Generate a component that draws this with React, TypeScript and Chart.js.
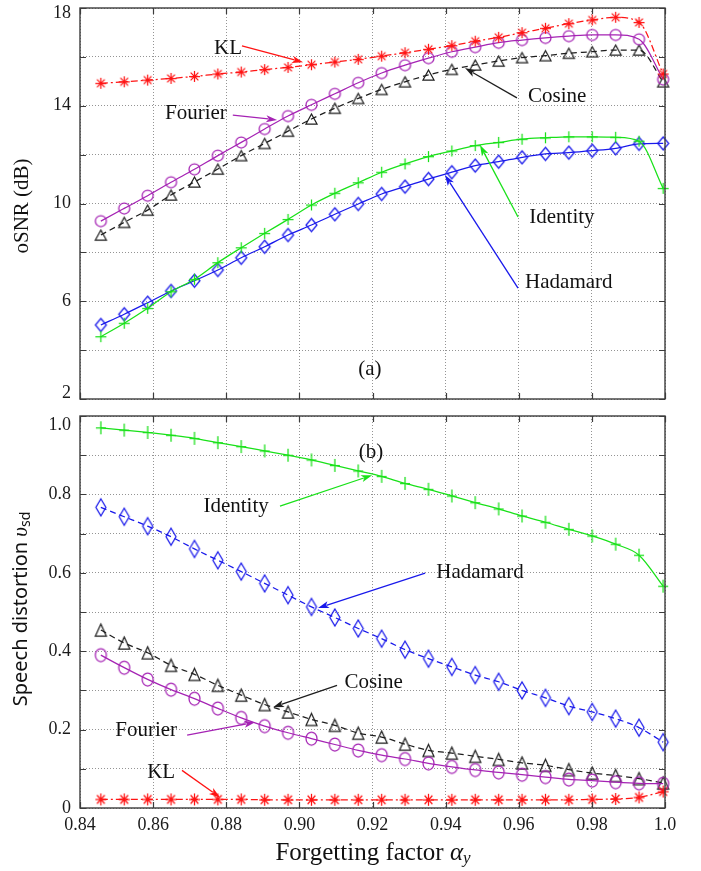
import React, { useEffect, useRef } from 'react';
import { Chart, registerables } from 'chart.js';

Chart.register(...registerables);

// ---------- data ----------
const ALPHA = [0.8457, 0.8521, 0.8585, 0.8649, 0.8713, 0.8777, 0.8841, 0.8905, 0.8969, 0.9033, 0.9097, 0.9161, 0.9225,
  0.9289, 0.9353, 0.9417, 0.9481, 0.9545, 0.9609, 0.9673, 0.9737, 0.9801, 0.9865, 0.9929, 0.9995];

const OSNR_KL = [14.92, 14.98, 15.05, 15.12, 15.20, 15.30, 15.38, 15.48, 15.57, 15.68, 15.79, 15.90, 16.03,
  16.17, 16.31, 16.46, 16.64, 16.80, 16.99, 17.17, 17.36, 17.51, 17.62, 17.41, 15.30];
const OSNR_FOURIER = [9.28, 9.80, 10.32, 10.87, 11.40, 11.96, 12.50, 13.05, 13.58, 14.04, 14.49, 14.94, 15.34,
  15.66, 15.95, 16.21, 16.40, 16.58, 16.69, 16.78, 16.85, 16.90, 16.90, 16.72, 15.08];
const OSNR_COSINE = [8.71, 9.23, 9.73, 10.35, 10.88, 11.41, 11.96, 12.46, 12.96, 13.46, 13.90, 14.30, 14.67,
  14.98, 15.26, 15.49, 15.67, 15.83, 15.97, 16.05, 16.15, 16.21, 16.28, 16.28, 14.98];
const OSNR_IDENTITY = [4.55, 5.10, 5.71, 6.39, 6.90, 7.58, 8.19, 8.78, 9.35, 9.94, 10.42, 10.85, 11.28,
  11.62, 11.92, 12.15, 12.37, 12.50, 12.63, 12.69, 12.73, 12.73, 12.71, 12.55, 10.62];
const OSNR_HADAMARD = [5.03, 5.47, 5.94, 6.42, 6.84, 7.28, 7.78, 8.23, 8.71, 9.12, 9.56, 9.98, 10.39,
  10.69, 11.00, 11.28, 11.55, 11.71, 11.89, 12.03, 12.08, 12.16, 12.26, 12.44, 12.46];

const DIST_IDENTITY = [0.970, 0.964, 0.958, 0.951, 0.943, 0.932, 0.922, 0.911, 0.900, 0.888, 0.874, 0.860, 0.846,
  0.828, 0.813, 0.796, 0.779, 0.763, 0.745, 0.729, 0.711, 0.694, 0.673, 0.645, 0.566];
const DIST_HADAMARD = [0.767, 0.743, 0.719, 0.692, 0.661, 0.632, 0.603, 0.573, 0.543, 0.513, 0.486, 0.458, 0.432,
  0.404, 0.381, 0.360, 0.339, 0.322, 0.300, 0.281, 0.260, 0.245, 0.228, 0.205, 0.168];
const DIST_COSINE = [0.454, 0.421, 0.396, 0.364, 0.341, 0.313, 0.288, 0.264, 0.245, 0.226, 0.211, 0.191, 0.181,
  0.163, 0.147, 0.140, 0.132, 0.124, 0.115, 0.109, 0.098, 0.089, 0.083, 0.075, 0.064];
const DIST_FOURIER = [0.390, 0.358, 0.328, 0.302, 0.279, 0.254, 0.230, 0.209, 0.192, 0.177, 0.162, 0.147, 0.135,
  0.125, 0.114, 0.105, 0.097, 0.091, 0.085, 0.079, 0.073, 0.070, 0.066, 0.063, 0.062];
const DIST_KL = [0.022, 0.022, 0.022, 0.022, 0.022, 0.022, 0.022, 0.021, 0.021, 0.021, 0.021, 0.021, 0.021,
  0.021, 0.021, 0.021, 0.021, 0.021, 0.021, 0.021, 0.021, 0.022, 0.023, 0.027, 0.042];

const X_TICKS = [0.84, 0.86, 0.88, 0.90, 0.92, 0.94, 0.96, 0.98, 1.0];
const X_TICK_LABELS = ['0.84', '0.86', '0.88', '0.90', '0.92', '0.94', '0.96', '0.98', '1.0'];
const OSNR_TICKS = [2, 4, 6, 8, 10, 12, 14, 16, 18];
const OSNR_TICK_LABELS = ['2', '', '6', '', '10', '', '14', '', '18'];
const DIST_TICKS = [0, 0.1, 0.2, 0.3, 0.4, 0.5, 0.6, 0.7, 0.8, 0.9, 1.0];
const DIST_TICK_LABELS = ['0', '', '0.2', '', '0.4', '', '0.6', '', '0.8', '', '1.0'];

// ---------- styles ----------
const RED = 'rgb(255,20,20)';
const PURPLE = 'rgb(165,35,180)';
const BLACK = 'rgb(30,30,30)';
const GREEN = 'rgb(25,225,25)';
const BLUE = 'rgb(25,25,235)';
const SERIF = '"Liberation Serif", "Times New Roman", serif';
const SANS = '"Noto Sans", "Open Sans", sans-serif';

type Note = { text: string; x: number; y: number; color?: string; from?: [number, number]; to?: [number, number] };

const NOTES_A: Note[] = [
  { text: 'KL', x: 0.8805, y: 16.36, color: RED, from: [0.8843, 16.45], to: [0.9010, 15.78] },
  { text: 'Fourier', x: 0.8717, y: 13.70, color: PURPLE, from: [0.8818, 13.62], to: [0.8939, 13.42] },
  { text: 'Cosine', x: 0.9705, y: 14.36, color: BLACK, from: [0.9595, 14.32], to: [0.9453, 15.54] },
  { text: 'Identity', x: 0.9718, y: 9.41, color: GREEN, from: [0.9598, 9.45], to: [0.9494, 12.39] },
  { text: 'Hadamard', x: 0.9737, y: 6.75, color: BLUE, from: [0.9598, 6.54], to: [0.9398, 11.17] },
  { text: '(a)', x: 0.9193, y: 3.19 },
];

const NOTES_B: Note[] = [
  { text: '(b)', x: 0.9196, y: 0.908 },
  { text: 'Identity', x: 0.8827, y: 0.768, color: GREEN, from: [0.8947, 0.770], to: [0.9199, 0.849] },
  { text: 'Hadamard', x: 0.9494, y: 0.600, color: BLUE, from: [0.9344, 0.599], to: [0.9051, 0.510] },
  { text: 'Cosine', x: 0.9203, y: 0.321, color: BLACK, from: [0.9103, 0.313], to: [0.8928, 0.257] },
  { text: 'Fourier', x: 0.8581, y: 0.199, color: PURPLE, from: [0.8693, 0.186], to: [0.8879, 0.219] },
  { text: 'KL', x: 0.8622, y: 0.091, color: RED, from: [0.8679, 0.096], to: [0.8783, 0.027] },
];

// ---------- helpers ----------
function marker(shape: string, color: string, w: number, h: number): HTMLCanvasElement {
  const pad = 2;
  const c = document.createElement('canvas');
  c.width = w + pad * 2;
  c.height = h + pad * 2;
  const g = c.getContext('2d')!;
  g.strokeStyle = color;
  g.lineWidth = 1.25;
  const cx = c.width / 2, cy = c.height / 2, rx = w / 2, ry = h / 2;
  g.beginPath();
  if (shape === 'circle') {
    g.ellipse(cx, cy, rx, ry, 0, 0, Math.PI * 2);
  } else if (shape === 'triangle') {
    g.moveTo(cx, cy - ry); g.lineTo(cx + rx, cy + ry); g.lineTo(cx - rx, cy + ry); g.closePath();
  } else if (shape === 'diamond') {
    g.moveTo(cx, cy - ry); g.lineTo(cx + rx, cy); g.lineTo(cx, cy + ry); g.lineTo(cx - rx, cy); g.closePath();
  } else if (shape === 'plus') {
    g.moveTo(cx - rx, cy); g.lineTo(cx + rx, cy); g.moveTo(cx, cy - ry); g.lineTo(cx, cy + ry);
  } else if (shape === 'star') {
    for (let k = 0; k < 4; k++) {
      const a = (k * Math.PI) / 4;
      const dx = Math.cos(a) * rx, dy = Math.sin(a) * ry;
      g.moveTo(cx - dx, cy - dy); g.lineTo(cx + dx, cy + dy);
    }
  }
  g.stroke();
  return c;
}

function series(values: number[], color: string, dash: number[], img: HTMLCanvasElement) {
  return {
    data: ALPHA.map((x, i) => ({ x, y: values[i] })),
    borderColor: color,
    borderWidth: 1.25,
    borderDash: dash,
    pointStyle: img,
    pointRadius: 6,
    pointBorderWidth: 0,
    pointBackgroundColor: 'rgba(0,0,0,0)',
    pointBorderColor: color,
    cubicInterpolationMode: 'monotone',
    fill: false,
    clip: false,
  };
}

type Seg = { t: string; f: string; dy?: number };

function drawRich(ctx: CanvasRenderingContext2D, segs: Seg[], cx: number, cy: number, rotate: boolean) {
  ctx.save();
  ctx.translate(cx, cy);
  if (rotate) ctx.rotate(-Math.PI / 2);
  ctx.textBaseline = 'middle';
  ctx.textAlign = 'left';
  ctx.fillStyle = '#111';
  let total = 0;
  const widths = segs.map((s) => { ctx.font = s.f; const w = ctx.measureText(s.t).width; total += w; return w; });
  let x = -total / 2;
  segs.forEach((s, i) => { ctx.font = s.f; ctx.fillText(s.t, x, s.dy || 0); x += widths[i]; });
  ctx.restore();
}

function drawArrow(ctx: CanvasRenderingContext2D, x1: number, y1: number, x2: number, y2: number, color: string) {
  const ang = Math.atan2(y2 - y1, x2 - x1);
  const L = 11, W = 3.6;
  ctx.save();
  ctx.strokeStyle = color;
  ctx.fillStyle = color;
  ctx.lineWidth = 1.3;
  ctx.beginPath();
  ctx.moveTo(x1, y1);
  ctx.lineTo(x2 - Math.cos(ang) * L * 0.8, y2 - Math.sin(ang) * L * 0.8);
  ctx.stroke();
  ctx.beginPath();
  ctx.moveTo(x2, y2);
  ctx.lineTo(x2 - Math.cos(ang) * L - Math.sin(ang) * W, y2 - Math.sin(ang) * L + Math.cos(ang) * W);
  ctx.lineTo(x2 - Math.cos(ang) * L * 0.75, y2 - Math.sin(ang) * L * 0.75);
  ctx.lineTo(x2 - Math.cos(ang) * L + Math.sin(ang) * W, y2 - Math.sin(ang) * L - Math.cos(ang) * W);
  ctx.closePath();
  ctx.fill();
  ctx.restore();
}

function decor(notes: Note[], titles: (ctx: CanvasRenderingContext2D) => void) {
  return {
    id: 'decor',
    afterDatasetsDraw(chart: any) {
      const { ctx, chartArea: a, scales } = chart;
      const xs = scales.x, ys = scales.y;
      const TL = 6;
      ctx.save();
      ctx.strokeStyle = '#3c3c3c';
      ctx.lineWidth = 1.4;
      ctx.strokeRect(a.left, a.top, a.right - a.left, a.bottom - a.top);
      ctx.lineWidth = 1.2;
      ctx.beginPath();
      xs.ticks.forEach((t: any) => {
        const px = Math.round(xs.getPixelForValue(t.value)) + 0.5;
        ctx.moveTo(px, a.bottom); ctx.lineTo(px, a.bottom - TL);
        ctx.moveTo(px, a.top); ctx.lineTo(px, a.top + TL);
      });
      ys.ticks.forEach((t: any) => {
        const py = Math.round(ys.getPixelForValue(t.value)) + 0.5;
        ctx.moveTo(a.left, py); ctx.lineTo(a.left + TL, py);
        ctx.moveTo(a.right, py); ctx.lineTo(a.right - TL, py);
      });
      ctx.stroke();
      ctx.restore();

      notes.forEach((n) => {
        if (n.from && n.to) {
          drawArrow(ctx, xs.getPixelForValue(n.from[0]), ys.getPixelForValue(n.from[1]),
            xs.getPixelForValue(n.to[0]), ys.getPixelForValue(n.to[1]), n.color || '#000');
        }
        drawRich(ctx, [{ t: n.text, f: `21px ${SERIF}` }], xs.getPixelForValue(n.x), ys.getPixelForValue(n.y), false);
      });
      titles(ctx);
    },
  };
}

const gridOpts = { color: 'rgba(0,0,0,0.42)', lineWidth: 1, drawTicks: false };
const borderOpts = { display: false, dash: [1, 2] };

function edgeFont(shift: Record<string, string>) {
  return (c: any) => {
    const v = c.tick ? String(c.tick.value) : '';
    return { family: SERIF, size: 18, lineHeight: shift[v] || 1.2 };
  };
}

function buildTop(): any {
  return {
    type: 'line',
    data: {
      datasets: [
        series(OSNR_KL, RED, [7, 3, 2, 3], marker('star', RED, 11, 11)),
        series(OSNR_FOURIER, PURPLE, [], marker('circle', PURPLE, 11, 11)),
        series(OSNR_COSINE, BLACK, [6, 4], marker('triangle', BLACK, 11, 10)),
        series(OSNR_IDENTITY, GREEN, [], marker('plus', GREEN, 11, 11)),
        series(OSNR_HADAMARD, BLUE, [], marker('diamond', BLUE, 11, 13)),
      ],
    },
    options: {
      responsive: false,
      animation: false,
      devicePixelRatio: 1,
      layout: { padding: { left: 0, right: 36, top: 8, bottom: 0 } },
      plugins: { legend: { display: false }, tooltip: { enabled: false } },
      scales: {
        x: {
          type: 'linear', min: 0.84, max: 1.0,
          afterBuildTicks: (s: any) => { s.ticks = X_TICKS.map((v) => ({ value: v })); },
          ticks: { display: false },
          grid: gridOpts, border: borderOpts,
          afterFit: (s: any) => { s.height = 11; s.paddingLeft = 0; s.paddingRight = 0; },
        },
        y: {
          type: 'linear', min: 2, max: 18,
          afterBuildTicks: (s: any) => { s.ticks = OSNR_TICKS.map((v) => ({ value: v })); },
          ticks: {
            callback: (_v: any, i: number) => {
              const l = OSNR_TICK_LABELS[i];
              if (l === '18') return ['', l];
              if (l === '2') return [l, ''];
              return l;
            },
            font: edgeFont({ '18': '10px', '2': '12px' }),
            color: '#1a1a1a', padding: 9,
          },
          grid: gridOpts, border: borderOpts,
          afterFit: (s: any) => { s.width = 80; s.paddingTop = 0; s.paddingBottom = 0; },
        },
      },
    },
    plugins: [decor(NOTES_A, (ctx) => {
      drawRich(ctx, [{ t: 'oSNR (dB)', f: `21px ${SERIF}` }], 22, 206, true);
    })],
  };
}

function buildBottom(): any {
  return {
    type: 'line',
    data: {
      datasets: [
        series(DIST_KL, RED, [7, 3, 2, 3], marker('star', RED, 11, 12)),
        series(DIST_FOURIER, PURPLE, [], marker('circle', PURPLE, 11, 13)),
        series(DIST_COSINE, BLACK, [6, 4], marker('triangle', BLACK, 11, 12)),
        series(DIST_IDENTITY, GREEN, [], marker('plus', GREEN, 10, 13)),
        series(DIST_HADAMARD, BLUE, [6, 4], marker('diamond', BLUE, 10, 17)),
      ],
    },
    options: {
      responsive: false,
      animation: false,
      devicePixelRatio: 1,
      layout: { padding: { left: 0, right: 36, top: 6, bottom: 0 } },
      plugins: { legend: { display: false }, tooltip: { enabled: false } },
      scales: {
        x: {
          type: 'linear', min: 0.84, max: 1.0,
          afterBuildTicks: (s: any) => { s.ticks = X_TICKS.map((v) => ({ value: v })); },
          ticks: {
            callback: (_v: any, i: number) => X_TICK_LABELS[i],
            autoSkip: false, maxRotation: 0, padding: 6,
            font: { family: SERIF, size: 18 }, color: '#1a1a1a',
          },
          grid: gridOpts, border: borderOpts,
          afterFit: (s: any) => { s.height = 63; s.paddingLeft = 0; s.paddingRight = 0; },
        },
        y: {
          type: 'linear', min: 0, max: 1.0,
          afterBuildTicks: (s: any) => { s.ticks = DIST_TICKS.map((v) => ({ value: v })); },
          ticks: {
            callback: (_v: any, i: number) => {
              const l = DIST_TICK_LABELS[i];
              if (l === '1.0') return ['', l];
              return l;
            },
            font: edgeFont({ '1': '18px' }),
            color: '#1a1a1a', padding: 9,
          },
          grid: gridOpts, border: borderOpts,
          afterFit: (s: any) => { s.width = 80; s.paddingTop = 0; s.paddingBottom = 0; },
        },
      },
    },
    plugins: [decor(NOTES_B, (ctx) => {
      drawRich(ctx, [
        { t: 'Speech distortion ', f: `20px ${SANS}` },
        { t: 'υ', f: `italic 21px ${SERIF}` },
        { t: 'sd', f: `14px ${SANS}`, dy: 5 },
      ], 21, 199, true);
      drawRich(ctx, [
        { t: 'Forgetting factor ', f: `25px ${SERIF}` },
        { t: 'α', f: `italic 25px ${SERIF}` },
        { t: 'y', f: `italic 17px ${SERIF}`, dy: 6 },
      ], 373, 443, false);
    })],
  };
}

export default function App() {
  const topRef = useRef<HTMLCanvasElement>(null);
  const botRef = useRef<HTMLCanvasElement>(null);
  useEffect(() => {
    const c1 = new Chart(topRef.current as HTMLCanvasElement, buildTop());
    const c2 = new Chart(botRef.current as HTMLCanvasElement, buildBottom());
    return () => { c1.destroy(); c2.destroy(); };
  }, []);
  return (
    <div style={{ position: 'absolute', left: 0, top: 0, width: 701, height: 871, background: '#fff' }}>
      <canvas ref={topRef} width={701} height={410} style={{ position: 'absolute', left: 0, top: 0 }} />
      <canvas ref={botRef} width={701} height={461} style={{ position: 'absolute', left: 0, top: 410 }} />
    </div>
  );
}
